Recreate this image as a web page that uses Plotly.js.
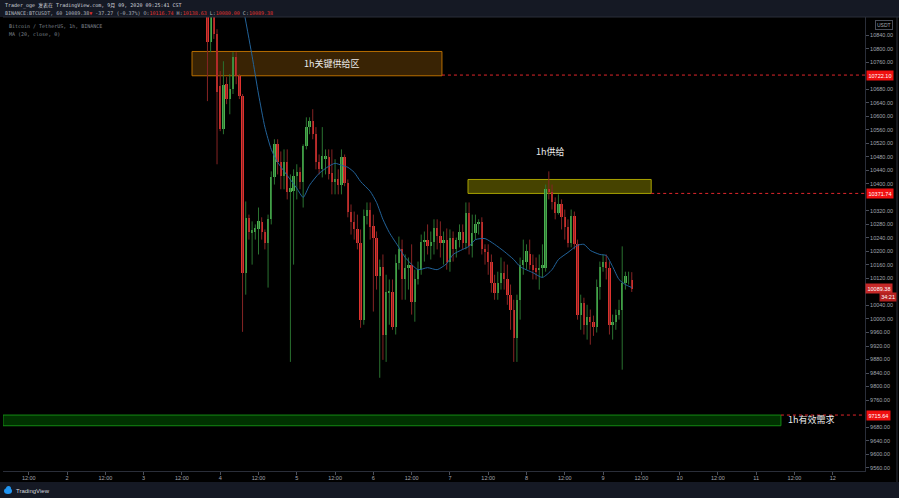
<!DOCTYPE html>
<html><head><meta charset="utf-8">
<script src="https://cdn.plot.ly/plotly-3.0.1.min.js"></script>
<style>html,body{margin:0;padding:0;background:#000;}#chart{width:899px;height:498px;}</style>
</head><body><div id="chart"></div>
<script>
// ---- data (BTCUSDT 1h, Binance), first candle 2020-09-03 20:00 ----
const firstCandle = {day: 3, hour: 20};
const opens = [10947,10820,10894,10844,10689,10562,10695,10651,10680,10775,
10719,10660,10137,10298,10256,10259,10265,10286,10259,10226,
10295,10419,10517,10464,10422,10464,10375,10378,10422,10434,
10407,10511,10568,10585,10547,10464,10443,10473,10479,10431,
10407,10413,10398,10479,10404,10318,10286,10265,10226,9998,
10304,10324,10274,10241,10126,10155,9954,10078,10081,9977,
10167,10206,10117,10152,10161,10051,10117,10146,10229,10235,
10215,10229,10268,10247,10224,10235,10170,10241,10206,10235,
10259,10226,10315,10215,10256,10280,10286,10206,10197,10170,
10108,10078,10108,10137,10117,10072,10028,9945,10057,10161,
10170,10191,10161,10152,10146,10152,10152,10384,10375,10345,
10315,10339,10301,10271,10226,10304,10221,10013,10048,9983,
10007,9992,9975,10096,10155,10170,10152,9983,9992,10013,
10028,10108,10126,10116.74];
const highs = [10962,10918,10918,10858,10734,10763,10716,10725,10790,10790,
10725,10666,10348,10309,10289,10280,10330,10301,10265,10309,
10437,10532,10532,10496,10502,10502,10428,10443,10458,10449,
10517,10597,10597,10621,10568,10487,10568,10502,10502,10502,
10473,10443,10502,10487,10413,10339,10318,10309,10265,10324,
10345,10345,10309,10259,10176,10191,10131,10117,10117,10191,
10244,10235,10191,10182,10221,10146,10170,10250,10259,10280,
10259,10295,10295,10289,10259,10268,10265,10259,10241,10280,
10280,10345,10345,10309,10309,10295,10301,10221,10221,10191,
10131,10140,10182,10170,10161,10102,10057,10072,10182,10235,
10221,10235,10191,10182,10191,10221,10398,10437,10398,10360,
10369,10354,10324,10295,10324,10318,10235,10072,10063,10042,
10028,10010,10117,10170,10191,10191,10170,10013,10028,10057,
10215,10140,10140,10138.63];
const lows = [10645,10790,10829,10458,10556,10547,10636,10606,10666,10695,
10651,9962,10072,10235,10161,10235,10191,10235,10206,10093,
10280,10398,10428,10384,10384,10354,9873,10161,10354,10384,
10330,10502,10547,10532,10443,10428,10419,10428,10413,10369,
10369,10369,10369,10393,10301,10250,10235,10206,9974,9983,
10280,10235,10022,10087,9826,9879,9873,9983,9968,9954,
10146,10057,10057,10087,10013,9992,10102,10131,10170,10191,
10176,10191,10206,10182,10161,10146,10140,10170,10182,10212,
10206,10206,10191,10182,10235,10250,10191,10161,10131,10078,
10057,10057,10087,10087,10042,9968,9873,9873,9998,10131,
10146,10146,10117,10117,10087,10123,10140,10354,10324,10295,
10309,10265,10235,10212,10212,10206,9998,9968,9954,9939,
9924,9950,9960,10057,10140,10117,9954,9939,9968,9998,
9850,10087,10102,10080.00];
const closes = [10820,10894,10844,10671,10562,10692,10651,10680,10775,10719,
10660,10137,10298,10259,10262,10268,10289,10259,10226,10295,
10419,10517,10464,10422,10464,10375,10387,10422,10434,10407,
10511,10568,10585,10547,10464,10443,10482,10482,10428,10407,
10413,10398,10479,10404,10318,10286,10265,10226,9998,10304,
10324,10271,10241,10126,10155,9954,10081,10084,9977,10167,
10206,10117,10152,10161,10051,10117,10146,10229,10235,10215,
10229,10268,10247,10224,10235,10170,10241,10206,10235,10259,
10226,10315,10215,10256,10280,10286,10206,10197,10170,10108,
10078,10108,10137,10117,10072,10028,9945,10057,10161,10176,
10200,10161,10146,10140,10152,10161,10384,10375,10345,10315,
10339,10301,10271,10226,10304,10221,10013,10048,9983,10007,
9992,9975,10096,10155,10170,10152,9983,9992,10013,10028,
10108,10126,10126.65,10089.38];

// MA(20, close)
const maTimes = ['2020-09-04 07:00','2020-09-04 10:00','2020-09-04 12:00','2020-09-04 14:00','2020-09-04 16:00','2020-09-04 18:00','2020-09-04 21:00','2020-09-05 00:00','2020-09-05 02:00','2020-09-05 04:00','2020-09-05 07:00','2020-09-05 10:00','2020-09-05 12:00','2020-09-05 14:00','2020-09-05 16:00','2020-09-05 18:00','2020-09-05 20:00','2020-09-05 23:00','2020-09-06 01:00','2020-09-06 03:00','2020-09-06 05:00','2020-09-06 08:00','2020-09-06 10:00','2020-09-06 14:00','2020-09-06 17:00','2020-09-06 20:00','2020-09-06 23:00','2020-09-07 01:00','2020-09-07 04:00','2020-09-07 06:00','2020-09-07 08:00','2020-09-07 11:00','2020-09-07 14:00','2020-09-07 17:00','2020-09-07 20:00','2020-09-07 22:00','2020-09-08 02:00','2020-09-08 05:00','2020-09-08 08:00','2020-09-08 10:00','2020-09-08 13:00','2020-09-08 16:00','2020-09-08 18:00','2020-09-08 20:00','2020-09-08 23:00','2020-09-09 01:00','2020-09-09 03:00','2020-09-09 05:00','2020-09-09 07:00','2020-09-09 09:00'];
const maValues = [10933,10778,10666,10568,10502,10464,10425,10387,10360,10396,10431,10452,10461,10455,10449,10434,10407,10378,10345,10295,10256,10212,10182,10146,10152,10146,10164,10191,10206,10215,10235,10238,10221,10200,10176,10155,10137,10123,10146,10176,10197,10218,10221,10203,10191,10188,10155,10117,10102,10093];

// zones and levels
const zoneNames = ['1h关键供给区','1h供给','1h有效需求'];
const zoneStart = ['2020-09-03 15:10','2020-09-07 05:40','2020-09-01 03:55'];
const zoneEnd = ['2020-09-06 21:30','2020-09-09 15:05','2020-09-11 07:45'];
const zoneLow = [10720,10371.74,9684];
const zoneHigh = [10792,10413,9715.64];
const levelPrices = [10722.10,10371.74,9715.64];
const lastPrice = 10089.38;
const countdown = '34:21';

const priceTicks = [10840,10800,10760,10680,10640,10600,10560,10520,10480,10440,10400,10320,10280,10240,10200,10160,10120,10040,10000,9960,9920,9880,9840,9800,9760,9680,9640,9600,9560];
const timeTicks = ['2020-09-01 12:00','2020-09-02 00:00','2020-09-02 12:00','2020-09-03 00:00','2020-09-03 12:00','2020-09-04 00:00','2020-09-04 12:00','2020-09-05 00:00','2020-09-05 12:00','2020-09-06 00:00','2020-09-06 12:00','2020-09-07 00:00','2020-09-07 12:00','2020-09-08 00:00','2020-09-08 12:00','2020-09-09 00:00','2020-09-09 12:00','2020-09-10 00:00','2020-09-10 12:00','2020-09-11 00:00','2020-09-11 12:00','2020-09-12 00:00'];
const timeLabels = ['12:00','2','12:00','3','12:00','4','12:00','5','12:00','6','12:00','7','12:00','8','12:00','9','12:00','10','12:00','11','12:00','12'];
const xRange = ['2020-09-01 03:55','2020-09-12 10:06'];
const yRange = [9550, 10894];

// ---- build ----
function pad(n){return (n<10?'0':'')+n;}
function hourStr(i){const t=firstCandle.day*24+firstCandle.hour+i-24;const d=1+Math.floor(t/24);const h=t%24;return '2020-09-'+pad(d)+' '+pad(h)+':00';}
const times = opens.map((_,i)=>hourStr(i));
const GREEN='#4caf50', RED='#e0332f', GWICK='#2a7230', RWICK='#862424';
const wg={x:[],y:[]}, wr={x:[],y:[]};
const bodyBase=[], bodyLen=[], bodyCol=[];
for(let i=0;i<opens.length;i++){
  const up = closes[i]>=opens[i];
  const w = up?wg:wr;
  w.x.push(times[i],times[i],null); w.y.push(lows[i],highs[i],null);
  bodyBase.push(Math.min(opens[i],closes[i]));
  bodyLen.push(Math.max(Math.abs(closes[i]-opens[i]),2));
  bodyCol.push(up?GREEN:RED);
}
const traces=[
 {type:'scatter',mode:'lines',x:wg.x,y:wg.y,line:{color:GWICK,width:1},hoverinfo:'skip',showlegend:false,connectgaps:false},
 {type:'scatter',mode:'lines',x:wr.x,y:wr.y,line:{color:RWICK,width:1},hoverinfo:'skip',showlegend:false,connectgaps:false},
 {type:'bar',x:times,y:bodyLen,base:bodyBase,width:0.72*3600000,marker:{color:bodyCol,line:{width:0}},hoverinfo:'skip',showlegend:false},
 {type:'scatter',mode:'lines',x:maTimes,y:maValues,line:{color:'#22639a',width:1,shape:'spline',smoothing:0.6},hoverinfo:'skip',showlegend:false}
];

const W=899,H=498,ML=3,MR=34,MT=17,MB=27;
const PW=W-ML-MR, PH=H-MT-MB;
const px=(x)=>(x-ML)/PW, py=(y)=>(H-MB-y)/PH;

const zoneFill=['rgba(62,38,4,0.92)','rgba(78,74,0,0.9)','rgba(0,52,0,0.95)'];
const zoneLine=['#b86e00','#a8a200','#138a13'];
const shapes=[];
shapes.push({type:'rect',xref:'paper',yref:'paper',x0:-0.01,x1:1.05,y0:1,y1:1.05,fillcolor:'#151924',line:{width:0},layer:'above'});
shapes.push({type:'rect',xref:'paper',yref:'paper',x0:-0.01,x1:1.05,y0:py(482),y1:-0.08,fillcolor:'#151924',line:{width:0},layer:'above'});
shapes.push({type:'line',xref:'paper',yref:'paper',x0:px(897),x1:px(897),y0:py(482),y1:1,line:{color:'#2a2e39',width:1}});
shapes.push({type:'line',xref:'paper',yref:'paper',x0:0,x1:px(899),y0:1,y1:1,line:{color:'#2a2e39',width:1}});
for(let k=0;k<3;k++){
  shapes.push({type:'rect',xref:'x',yref:'y',x0:zoneStart[k],x1:zoneEnd[k],y0:zoneLow[k],y1:zoneHigh[k],fillcolor:zoneFill[k],line:{color:zoneLine[k],width:1},layer:'below'});
  shapes.push({type:'line',xref:'x',yref:'y',x0:zoneEnd[k],x1:xRange[1],y0:levelPrices[k],y1:levelPrices[k],line:{color:'#e0262b',width:1,dash:'dot'},layer:'above'});
}
shapes.push({type:'circle',xref:'paper',yref:'paper',x0:px(4),x1:px(12),y0:py(494),y1:py(488),fillcolor:'#2196f3',line:{width:0},layer:'above'});
shapes.push({type:'circle',xref:'paper',yref:'paper',x0:px(6),x1:px(11),y0:py(491),y1:py(486),fillcolor:'#2196f3',line:{width:0},layer:'above'});

const mono='DejaVu Sans Mono, Noto Sans CJK SC, monospace';
const axfont={family:'Liberation Sans, Arial, sans-serif',size:5.5,color:'#a3a6af'};
const R='#e0332f';
const ann=[];
ann.push({xref:'paper',yref:'paper',x:px(3),y:py(5),xanchor:'left',yanchor:'middle',showarrow:false,
  text:'Trader_oge 发表在 TradingView.com, 9月 09, 2020 09:25:41 CST',font:{family:mono,size:5,color:'#d1d4dc'}});
ann.push({xref:'paper',yref:'paper',x:px(3),y:py(13),xanchor:'left',yanchor:'middle',showarrow:false,
  text:'BINANCE:BTCUSDT, 60 10089.38<span style="color:'+R+'">▼</span> -37.27 (-0.37%) O:<span style="color:'+R+'">10116.74</span> H:<span style="color:'+R+'">10138.63</span> L:<span style="color:'+R+'">10080.00</span> C:<span style="color:'+R+'">10089.38</span>',
  font:{family:mono,size:5,color:'#b2b5be'}});
ann.push({xref:'paper',yref:'paper',x:px(7),y:py(26),xanchor:'left',yanchor:'middle',showarrow:false,text:'Bitcoin / TetherUS, 1h, BINANCE',font:{family:mono,size:5,color:'#7f838c'}});
ann.push({xref:'paper',yref:'paper',x:px(7),y:py(34),xanchor:'left',yanchor:'middle',showarrow:false,text:'MA (20, close, 0)',font:{family:mono,size:5,color:'#7f838c'}});
const cjk={family:'Noto Sans CJK SC, sans-serif',size:9,color:'#ececec'};
ann.push({x:'2020-09-05 10:45',y:10757,xref:'x',yref:'y',showarrow:false,text:zoneNames[0],font:cjk});
ann.push({x:'2020-09-08 07:20',y:10496,xref:'x',yref:'y',showarrow:false,text:zoneNames[1],font:cjk});
ann.push({x:'2020-09-11 09:20',y:9701,xref:'x',yref:'y',xanchor:'left',showarrow:false,text:zoneNames[2],font:cjk});
const lblFont={family:'Liberation Sans, Arial, sans-serif',size:5.5,color:'#ffffff'};
levelPrices.forEach(p=>ann.push({xref:'paper',yref:'y',x:px(866),y:p,xanchor:'left',yanchor:'middle',showarrow:false,text:p.toFixed(2),bgcolor:'#f01010',borderpad:1.5,font:lblFont}));
ann.push({xref:'paper',yref:'y',x:px(865),y:lastPrice,xanchor:'left',yanchor:'middle',showarrow:false,text:lastPrice.toFixed(2),bgcolor:'#c62828',borderpad:1.5,font:lblFont});
ann.push({xref:'paper',yref:'paper',x:px(897),y:py(297),xanchor:'right',yanchor:'middle',showarrow:false,text:countdown,bgcolor:'#b3201f',borderpad:1.2,font:lblFont});
ann.push({xref:'paper',yref:'paper',x:px(884),y:py(25),xanchor:'center',yanchor:'middle',showarrow:false,text:'USDT',bordercolor:'#4a4e59',borderwidth:1,borderpad:1,font:{family:'Liberation Sans, Arial, sans-serif',size:5,color:'#a3a6af'}});
ann.push({xref:'paper',yref:'paper',x:px(14),y:py(491),xanchor:'left',yanchor:'middle',showarrow:false,text:'TradingView',font:{family:'Liberation Sans, Arial, sans-serif',size:6,color:'#d1d4dc'}});

const layout={
  width:W,height:H,margin:{l:ML,r:MR,t:MT,b:MB,pad:0},
  paper_bgcolor:'#000000',plot_bgcolor:'rgba(0,0,0,0)',
  showlegend:false,hovermode:false,bargap:0,barmode:'overlay',
  xaxis:{type:'date',range:xRange,tickvals:timeTicks,ticktext:timeLabels,ticks:'outside',ticklen:3,tickcolor:'#4a4e59',ticklabelstandoff:-2,
    tickfont:axfont,showgrid:false,zeroline:false,showline:true,linecolor:'#2a2e39',linewidth:1,rangeslider:{visible:false},fixedrange:true},
  yaxis:{side:'right',range:yRange,tickvals:priceTicks,ticktext:priceTicks.map(v=>v.toFixed(2)),ticks:'outside',ticklen:3,tickcolor:'#4a4e59',
    tickfont:axfont,showgrid:false,zeroline:false,showline:true,linecolor:'#2a2e39',linewidth:1,fixedrange:true},
  shapes:shapes,annotations:ann
};
Plotly.newPlot('chart',traces,layout,{staticPlot:true,displayModeBar:false});
</script></body></html>
